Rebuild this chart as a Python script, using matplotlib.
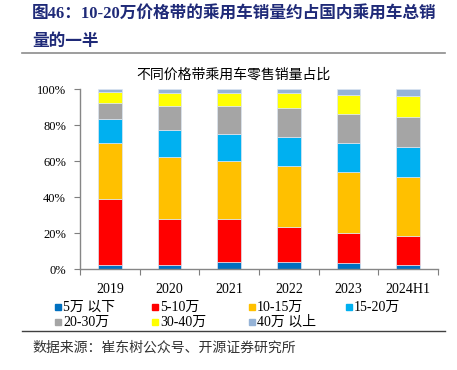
import matplotlib
matplotlib.use("Agg")
import matplotlib.pyplot as plt
from matplotlib.patches import Rectangle, Patch
from matplotlib.lines import Line2D
import numpy as np

years = ["2019", "2020", "2021", "2022", "2023", "2024H1"]
segments = ["5万以下", "5-10万", "10-15万", "15-20万", "20-30万", "30-40万", "40万以上"]
legend_labels = ["5万 以下", "5-10万", "10-15万", "15-20万", "20-30万", "30-40万", "40万 以上"]
below_5 = [2.2, 2.2, 3.7, 3.9, 3.1, 2.4]
w5_10 = [36.5, 25.4, 23.9, 19.4, 17.1, 15.7]
w10_15 = [31.5, 34.6, 32.4, 34.1, 33.5, 33.0]
w15_20 = [12.9, 14.8, 15.2, 15.8, 16.3, 16.5]
w20_30 = [9.3, 13.6, 15.4, 16.1, 16.1, 17.0]
w30_40 = [6.1, 7.2, 7.2, 8.3, 10.8, 11.7]
above_40 = [1.5, 2.2, 2.2, 2.4, 3.1, 3.7]
series = [below_5, w5_10, w10_15, w15_20, w20_30, w30_40, above_40]
colors = ["#0070C0", "#FF0000", "#FFC000", "#00B0F0", "#A5A5A5", "#FFFF00", "#95B3D7"]
yticks = [0, 20, 40, 60, 80, 100]

SERIF = ["Liberation Serif", "Noto Sans CJK SC"]
W, H = 457, 370
fig = plt.figure(figsize=(W / 100, H / 100), dpi=100)

def fx(px):
    return px / W

def fy(py):
    return 1 - py / H

ax = fig.add_axes([fx(80), fy(269), fx(438) - fx(80), fy(89) - fy(269)])
x = np.arange(len(years))
bottom = np.zeros(len(years))
for vals, c, lab in zip(series, colors, segments):
    v = np.array(vals)
    ax.bar(x, v, width=0.4, bottom=bottom, color=c, edgecolor="#DCE6F2",
           linewidth=0.5, label=lab)
    bottom += v

ax.set_xlim(-0.5, len(years) - 0.5)
ax.set_ylim(0, 100)
ax.set_yticks(yticks)
ax.set_yticklabels([f"{t}%" for t in yticks], fontfamily=SERIF, fontsize=9)
ax.set_xticks(np.arange(-0.5, len(years), 1))
ax.set_xticklabels([])
ax.set_xticks(x, minor=True)
ax.set_xticklabels(years, minor=True, fontfamily=SERIF, fontsize=10)
ax.tick_params(axis="x", which="major", direction="out", length=4, color="#7F7F7F")
ax.tick_params(axis="x", which="minor", length=0, pad=10)
ax.tick_params(axis="y", direction="out", length=4, color="#7F7F7F", pad=6)
for s in ["top", "right"]:
    ax.spines[s].set_visible(False)
for s in ["left", "bottom"]:
    ax.spines[s].set_color("#868686")
    ax.spines[s].set_linewidth(1.0)

# Titles
fig.text(fx(32), fy(15), "图46：10-20万价格带的乘用车销量约占国内乘用车总销",
         fontfamily=SERIF, fontweight="bold", fontsize=12, color="#1F2A78",
         va="center", ha="left")
fig.text(fx(32), fy(42), "量的一半", fontfamily=SERIF, fontweight="bold",
         fontsize=12, color="#1F2A78", va="center", ha="left")
fig.add_artist(Line2D([fx(22), fx(445)], [fy(53), fy(53)], color="#8C8C8C", lw=1.2))
fig.text(fx(233), fy(75), "不同价格带乘用车零售销量占比", fontfamily=SERIF,
         fontsize=10, color="black", va="center", ha="center")

# Legend (row-major)
col_x = [55, 152, 249, 346]
row_y = [307, 322]
for i, (lab, c) in enumerate(zip(legend_labels, colors)):
    r, cidx = divmod(i, 4)
    px, py = col_x[cidx], row_y[r]
    fig.add_artist(Rectangle((fx(px), fy(py + 3)), fx(6), fy(0) - fy(6),
                             color=c, transform=fig.transFigure))
    fig.text(fx(px + 8), fy(py), lab, fontfamily=SERIF, fontsize=10,
             va="center", ha="left")

fig.add_artist(Line2D([fx(22), fx(445)], [fy(331), fy(331)], color="#404040", lw=1.0))
fig.text(fx(32), fy(348), "数据来源：崔东树公众号、开源证券研究所", fontfamily=SERIF,
         fontsize=10, color="#333333", va="center", ha="left")

fig.savefig("out.png", dpi=100)
